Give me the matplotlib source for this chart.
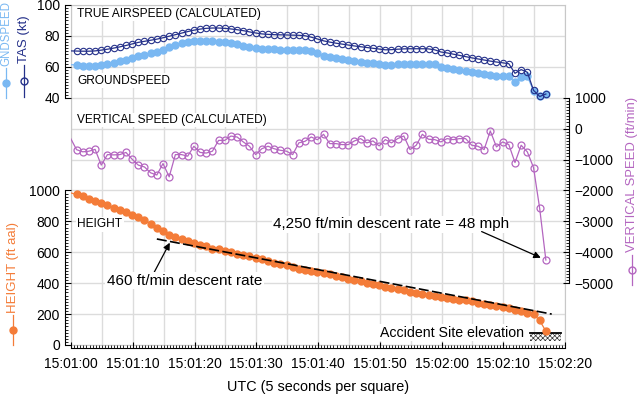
import numpy as np
import matplotlib
matplotlib.use('Agg')
import matplotlib.pyplot as plt
from matplotlib.lines import Line2D
from matplotlib.patches import Rectangle

plt.rcParams['font.family'] = ['Liberation Sans', 'DejaVu Sans']
plt.rcParams['hatch.linewidth'] = 0.5

# seconds after 15:01:00, one sample a second (first sample sits just left of the frame)
t_sec = np.arange(-1, 77) + 0.9

tas_kt = [70.3,
          70.2, 70.1, 70.1, 70.3, 70.8, 71.4, 72.1, 72.9, 73.8, 74.8,
          75.8, 76.5, 77.2, 77.9, 78.8, 79.8, 80.8, 81.8, 82.8, 83.7,
          84.4, 84.9, 85.1, 85.1, 84.9, 84.5, 84.0, 83.4, 82.6, 81.9,
          81.3, 81.0, 80.8, 80.7, 80.6, 80.5, 80.4, 80.1, 79.2, 78.0,
          76.8, 76.0, 75.3, 74.7, 74.1, 73.5, 73.0, 72.5, 72.0, 71.5,
          71.0, 71.1, 71.4, 71.6, 71.7, 71.7, 71.7, 71.6, 71.0, 69.6,
          69.0, 68.2, 67.4, 66.6, 65.8, 65.1, 64.4, 63.7, 63.1, 62.6,
          62.0, 55.8, 58.2, 56.5, 44.8, 40.8, 42.4]

gs_kt = [61.4,
         61.2, 60.8, 60.6, 60.6, 61.0, 61.8, 62.6, 63.5, 64.5, 65.7,
         66.9, 67.8, 68.7, 69.8, 71.2, 72.6, 73.9, 75.1, 76.0, 76.6,
         76.8, 76.8, 76.6, 76.3, 75.8, 75.2, 74.5, 73.5, 72.6, 72.0,
         71.7, 71.5, 71.3, 71.2, 71.1, 71.0, 71.0, 70.8, 70.0, 68.8,
         67.2, 66.3, 65.6, 65.0, 64.5, 63.8, 63.2, 62.7, 62.2, 61.6,
         61.2, 61.4, 61.8, 62.0, 62.1, 62.1, 62.0, 61.9, 61.6, 60.2,
         59.3, 58.6, 57.9, 57.2, 56.5, 56.0, 55.4, 54.8, 54.3, 54.0,
         53.8, 50.0, 53.5, 53.8, 44.6, 40.8, 42.4]

vs_fpm = [-300,
          -680, -750, -730, -670, -1180, -840, -850, -840, -770, -990,
          -1180, -1240, -1430, -1500, -1130, -1560, -840, -840, -890, -570,
          -770, -790, -730, -380, -380, -240, -270, -430, -570, -840,
          -650, -570, -650, -700, -730, -840, -460, -410, -270, -360,
          -183, -484, -484, -516, -516, -398, -323, -462, -398, -559,
          -355, -462, -323, -237, -677, -538, -183, -344, -355, -430,
          -323, -355, -323, -323, -538, -570, -677, -75, -591, -430,
          -516, -1097, -538, -753, -1258, -2581, -4250]

height_ft = [985,
             974, 961, 946, 933, 918, 903, 888, 871, 860, 843,
             828, 806, 785, 757, 738, 710, 699, 688, 675, 662,
             649, 639, 624, 619, 611, 602, 591, 585, 574, 563,
             555, 544, 533, 525, 516, 505, 495, 484, 477, 472,
             467, 457, 448, 437, 430, 420, 413, 402, 393, 387,
             376, 370, 361, 354, 343, 337, 330, 324, 317, 311,
             304, 300, 293, 289, 283, 274, 267, 261, 254, 246,
             239, 228, 217, 209, 198, 159, 89]

# 460 ft/min reference line
descent_t = [13.9, 77.85]
descent_h = [686, 200]

# accident site elevation (ft aal) and hatched ground block
site_elev = 78
site_floor = 28
site_t = [74.3, 79.35]

time_ticks = [0, 10, 20, 30, 40, 50, 60, 70, 80]
time_labels = ['15:01:00', '15:01:10', '15:01:20', '15:01:30', '15:01:40',
               '15:01:50', '15:02:00', '15:02:10', '15:02:20']

c_tas = '#25318a'
c_gs = '#7ab8f2'
c_vs = '#b466c0'
c_h = '#f47c38'
c_grid = '#dcdcdc'

W, H = 640, 394
fig = plt.figure(figsize=(W / 100, H / 100), dpi=100)
rect = [71 / W, (H - 345) / H, 494 / W, 340 / H]

# grid of 5-second squares
gax = fig.add_axes(rect, zorder=0)
gax.set_xlim(0, 80)
gax.set_ylim(0, 11)
gax.set_xticks(np.arange(0, 81, 5))
gax.set_yticks(np.arange(0, 12, 1))
gax.grid(True, color=c_grid, lw=1)
gax.tick_params(length=0, labelbottom=False, labelleft=False)
for s in gax.spines.values():
    s.set_color('#c8c8c8')


def overlay(z):
    a = fig.add_axes(rect, zorder=z)
    a.patch.set_visible(False)
    a.set_xlim(0, 80)
    for s in a.spines.values():
        s.set_visible(False)
    a.tick_params(axis='x', which='both', bottom=False, labelbottom=False)
    return a


box = dict(facecolor='white', edgecolor='none', pad=1)

# --- height ---
ax_h = overlay(1)
ax_h.set_ylim(0, 2200)
ax_h.spines['left'].set_visible(True)
ax_h.spines['left'].set_position(('outward', 4))
ax_h.spines['left'].set_bounds(0, 1000)
ax_h.spines['bottom'].set_visible(True)
ax_h.spines['bottom'].set_position(('outward', 2.5))
ax_h.set_yticks(np.arange(0, 1001, 200))
ax_h.set_yticks(np.arange(0, 1001, 20), minor=True)
ax_h.set_xticks(time_ticks)
ax_h.set_xticklabels(time_labels)
ax_h.set_xticks(np.arange(0, 80.01, 0.5), minor=True)
ax_h.tick_params(axis='x', which='both', bottom=True, labelbottom=True)
ax_h.tick_params(which='major', direction='in', length=4, width=0.8, labelsize=10)
ax_h.tick_params(which='minor', direction='in', length=2, width=0.6)
ax_h.tick_params(axis='x', pad=6)
ax_h.tick_params(axis='y', pad=4)

ax_h.plot(t_sec, height_ft, color=c_h, lw=0.9, marker='o', ms=5, mec=c_h,
          markevery=slice(1, None), zorder=2)
ax_h.plot(descent_t, descent_h, color='black', lw=1.2, dashes=(6, 2), zorder=3)
ax_h.add_patch(Rectangle((site_t[0], site_floor), site_t[1] - site_t[0],
                         site_elev - site_floor, facecolor='white',
                         edgecolor='#333333', hatch='xxxxxxx', lw=0, zorder=1))
ax_h.plot(site_t, [site_elev, site_elev], color='black', lw=1.3, zorder=1)

ax_h.text(1.0, 781, 'HEIGHT', fontsize=8.6, va='center', bbox=box, zorder=5)
ax_h.text(5.8, 416, '460 ft/min descent rate', fontsize=11, va='center',
          bbox=box, zorder=5)
ax_h.annotate('', xy=(16.0, 662), xytext=(12.3, 382),
              arrowprops=dict(arrowstyle='-|>', color='black', lw=0.9,
                              mutation_scale=10, shrinkA=0, shrinkB=0),
              zorder=4)
ax_h.text(32.7, 781, '4,250 ft/min descent rate = 48 mph', fontsize=11,
          va='center', bbox=box, zorder=5)
ax_h.text(73.4, 80, 'Accident Site elevation', fontsize=10.2, ha='right',
          va='center', bbox=box, zorder=5)

# --- vertical speed ---
ax_vs = overlay(2)
ax_vs.set_ylim(-7000, 4000)
ax_vs.spines['right'].set_visible(True)
ax_vs.spines['right'].set_position(('outward', 3))
ax_vs.spines['right'].set_bounds(-5000, 1000)
ax_vs.yaxis.tick_right()
ax_vs.set_yticks(np.arange(-5000, 1001, 1000))
ax_vs.set_yticks(np.arange(-5000, 1001, 100), minor=True)
ax_vs.tick_params(which='major', direction='in', length=4, width=0.8, labelsize=10, pad=4)
ax_vs.tick_params(which='minor', direction='in', length=2, width=0.6)

ax_vs.plot(t_sec, vs_fpm, color=c_vs, lw=0.9, marker='o', ms=5, mfc='none',
           mec=c_vs, mew=0.9, markevery=slice(1, None))
ax_vs.text(1.0, 280, 'VERTICAL SPEED (CALCULATED)', fontsize=8.6, va='center', bbox=box)
ax_vs.annotate('', xy=(t_sec[-1], vs_fpm[-1]), xytext=(66.5, -3330),
               arrowprops=dict(arrowstyle='-|>', color='black', lw=0.9,
                               mutation_scale=10, shrinkA=0, shrinkB=4))

# --- speeds ---
ax_s = overlay(3)
ax_s.set_ylim(-120, 100)
ax_s.spines['left'].set_visible(True)
ax_s.spines['left'].set_position(('outward', 4))
ax_s.spines['left'].set_bounds(40, 100)
ax_s.set_yticks(np.arange(40, 101, 20))
ax_s.set_yticks(np.arange(40, 101, 2), minor=True)
ax_s.tick_params(which='major', direction='in', length=4, width=0.8, labelsize=10, pad=4)
ax_s.tick_params(which='minor', direction='in', length=2, width=0.6)

ax_s.plot(t_sec, gs_kt, color=c_gs, lw=0.9, marker='o', ms=5, mec=c_gs,
          markevery=slice(1, None))
ax_s.plot(t_sec, tas_kt, color=c_tas, lw=0.9, marker='o', ms=4.6, mfc='none',
          mec=c_tas, mew=0.8, markevery=slice(1, None))
ax_s.text(1.0, 94.2, 'TRUE AIRSPEED (CALCULATED)', fontsize=8.6, va='center', bbox=box)
ax_s.text(1.0, 51, 'GROUNDSPEED', fontsize=8.6, va='center', bbox=box)


# rotated axis titles with their series key
def side_key(x, y_top, y_bot, color, filled):
    xs = [x / W] * 3
    ys = [1 - y_bot / H, 1 - (y_top + y_bot) / 2 / H, 1 - y_top / H]
    fig.add_artist(Line2D(xs, ys, transform=fig.transFigure, color=color, lw=0.9,
                          marker='o', markevery=[1], ms=5,
                          mfc=color if filled else 'none', mec=color))


fig.text(6 / W, 1 - 66 / H, 'GNDSPEED', rotation=90, ha='center', va='bottom',
         color=c_gs, fontsize=8.3)
side_key(6, 68, 98, c_gs, True)
fig.text(24 / W, 1 - 63 / H, 'TAS (kt)', rotation=90, ha='center', va='bottom',
         color=c_tas, fontsize=9.5)
side_key(24, 65, 97, c_tas, False)
fig.text(13 / W, 1 - 313 / H, 'HEIGHT (ft aal)', rotation=90, ha='center',
         va='bottom', color=c_h, fontsize=9.5)
side_key(13, 315, 345, c_h, True)
fig.text(632 / W, 1 - 252 / H, 'VERTICAL SPEED (ft/min)', rotation=90, ha='center',
         va='bottom', color=c_vs, fontsize=9.4)
side_key(632, 255, 285, c_vs, False)

fig.text(318 / W, 1 - 387 / H, 'UTC (5 seconds per square)', ha='center',
         va='center', fontsize=10.4)

fig.savefig('out.png', dpi=100)
